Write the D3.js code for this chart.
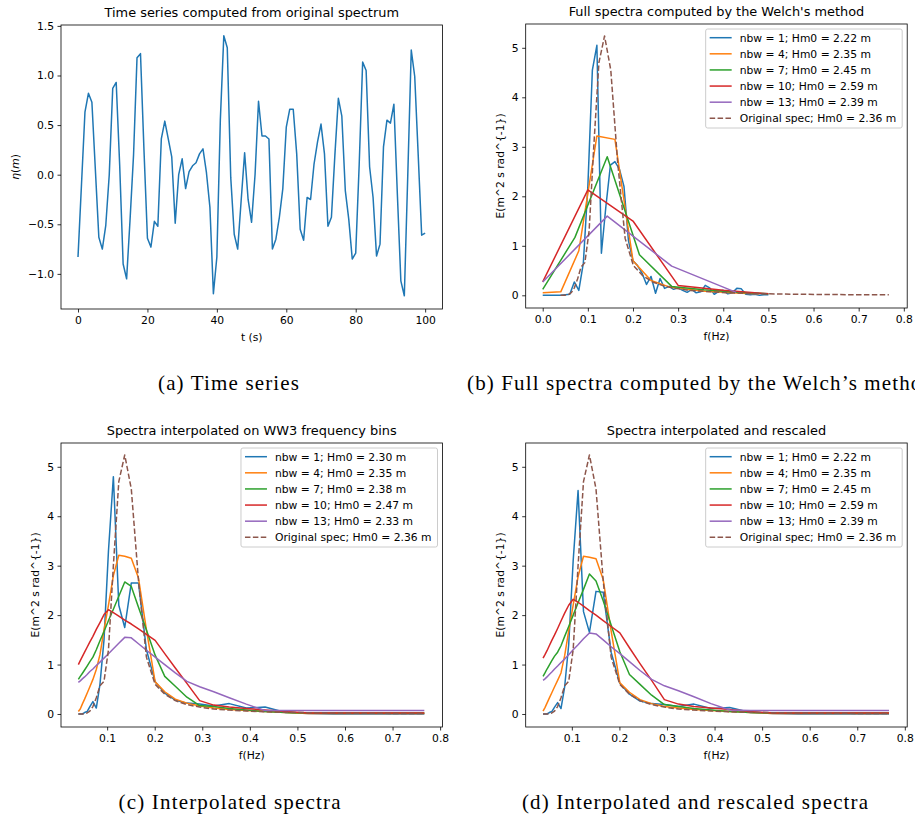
<!DOCTYPE html>
<html>
<head>
<meta charset="utf-8">
<script src="https://cdn.jsdelivr.net/npm/d3@7"></script>
<style>
body { margin: 0; background: #fff; }
svg { display: block; }
.caption { font-family: "Liberation Serif", "DejaVu Serif", serif; font-size: 21px; }
</style>
</head>
<body>
<script>
// ---- data ----

// (a) time series, one sample per second
const tSeconds = [
  0, 1, 2, 3, 4, 5, 6, 7, 8, 9, 10, 11, 12, 13, 14, 15, 16, 17, 18, 19,
  20, 21, 22, 23, 24, 25, 26, 27, 28, 29, 30, 31, 32, 33, 34, 35, 36, 37, 38, 39,
  40, 41, 42, 43, 44, 45, 46, 47, 48, 49, 50, 51, 52, 53, 54, 55, 56, 57, 58, 59,
  60, 61, 62, 63, 64, 65, 66, 67, 68, 69, 70, 71, 72, 73, 74, 75, 76, 77, 78, 79,
  80, 81, 82, 83, 84, 85, 86, 87, 88, 89, 90, 91, 92, 93, 94, 95, 96, 97, 98, 99, 100];
const eta = [
  -0.83, -0.1, 0.63, 0.82, 0.73, 0.05, -0.63, -0.75, -0.51, 0.0,
  0.87, 0.93, 0.1, -0.9, -1.05, -0.45, 0.2, 1.18, 1.22, 0.25,
  -0.64, -0.73, -0.47, -0.52, 0.36, 0.54, 0.36, 0.18, -0.49, 0.0,
  0.16, -0.14, 0.03, 0.09, 0.12, 0.21, 0.26, 0.02, -0.33, -1.2,
  -0.83, 0.55, 1.4, 1.28, -0.03, -0.6, -0.75, -0.26, 0.22, -0.25,
  -0.48, 0.0, 0.74, 0.39, 0.39, 0.36, -0.75, -0.65, -0.43, -0.14,
  0.48, 0.66, 0.66, 0.21, -0.55, -0.66, -0.23, -0.25, 0.11, 0.33,
  0.51, 0.21, -0.52, -0.43, 0.2, 0.77, 0.59, -0.16, -0.45, -0.85,
  -0.79, 0.1, 1.135, 1.05, 0.08, -0.23, -0.82, -0.7, 0.28, 0.55,
  0.52, 0.71, -0.2, -1.07, -1.22, 0.0, 1.256, 0.99, 0.2, -0.61,
  -0.59];

// (b) Welch spectra, each on its own frequency grid
const fNbw1 = [
  0, 0.01, 0.02, 0.03, 0.04, 0.05, 0.06, 0.07, 0.08, 0.09,
  0.10, 0.11, 0.12, 0.13, 0.14, 0.15, 0.16, 0.17, 0.18, 0.19,
  0.20, 0.21, 0.22, 0.23, 0.24, 0.25, 0.26, 0.27, 0.28, 0.29,
  0.30, 0.31, 0.32, 0.33, 0.34, 0.35, 0.36, 0.37, 0.38, 0.39,
  0.40, 0.41, 0.42, 0.43, 0.44, 0.45, 0.46, 0.47, 0.48, 0.49, 0.50];
const eNbw1 = [
  0, 0, 0, 0, 0, 0.01, 0.02, 0.27, 0.1, 0.65,
  2.2, 4.55, 5.05, 0.85, 1.8, 2.63, 2.7, 2.55, 2.2, 1.1,
  0.7, 0.6, 0.45, 0.22, 0.38, 0.04, 0.34, 0.14, 0.18, 0.12,
  0.15, 0.1, 0.06, 0.12, 0.05, 0.07, 0.2, 0.15, 0.02, 0.08,
  0.1, 0.03, 0.05, 0.14, 0.13, 0.02, 0.01, 0.02, 0.0, 0.01, 0.01];
const fNbw4 = [0, 0.04, 0.08, 0.12, 0.16, 0.20, 0.24, 0.28, 0.32, 0.36, 0.40, 0.44, 0.48];
const eNbw4 = [0.05, 0.07, 0.9, 3.22, 3.15, 0.7, 0.3, 0.17, 0.12, 0.08, 0.06, 0.04, 0.03];
const fNbw7 = [0, 0.0714, 0.1429, 0.2143, 0.2857, 0.3571, 0.4286, 0.5];
const eNbw7 = [0.12, 1.17, 2.8, 0.82, 0.18, 0.11, 0.06, 0.03];
const fNbw10 = [0, 0.1, 0.2, 0.3, 0.4, 0.5];
const eNbw10 = [0.27, 2.13, 1.5, 0.2, 0.1, 0.03];
const fNbw13 = [0, 0.1429, 0.2857, 0.4286];
const eNbw13 = [0.27, 1.6, 0.59, 0.06];

// WW3 frequency bins and the original spectrum on them
const ww3Freq = [
  0.0395, 0.0435, 0.0478, 0.0526, 0.0579, 0.0637, 0.0701, 0.0772, 0.0849, 0.0934,
  0.1028, 0.1131, 0.1245, 0.1370, 0.1508, 0.1659, 0.1826, 0.2009, 0.2211, 0.2433,
  0.2677, 0.2945, 0.3241, 0.3567, 0.3925, 0.4319, 0.4752, 0.5229, 0.5754, 0.6332,
  0.6968, 0.7668];
const origSpec = [
  0, 0, 0, 0.01, 0.02, 0.06, 0.15, 0.33, 0.57, 0.66,
  1.3, 3.0, 4.7, 5.24, 4.55, 2.7, 1.15, 0.6, 0.4, 0.27,
  0.19, 0.14, 0.1, 0.08, 0.06, 0.045, 0.035, 0.027, 0.02, 0.015,
  0.012, 0.01];

// (c) interpolated on WW3 bins
const interpNbw1 = [0, 0, 0, 0.03, 0.05, 0.15, 0.25, 0.12, 0.6, 1.5, 3.3, 4.8, 2.2, 1.75, 2.65, 2.65,
  1.3, 0.65, 0.42, 0.28, 0.22, 0.2, 0.16, 0.21, 0.12, 0.14, 0.03, 0.01, 0, 0, 0, 0];
const interpNbw4 = [0.05, 0.1, 0.2, 0.3, 0.42, 0.55, 0.7, 0.9, 1.2, 1.7, 2.2, 2.8, 3.21, 3.19, 3.15, 2.75,
  1.7, 0.65, 0.45, 0.3, 0.22, 0.16, 0.12, 0.09, 0.07, 0.05, 0.03, 0.01, 0.01, 0.01, 0.01, 0.01];
const interpNbw7 = [0.7, 0.76, 0.82, 0.89, 0.97, 1.06, 1.15, 1.3, 1.48, 1.67, 1.89, 2.12, 2.38, 2.67, 2.58, 2.16,
  1.7, 1.19, 0.76, 0.56, 0.34, 0.17, 0.15, 0.11, 0.08, 0.05, 0.03, 0.02, 0.02, 0.02, 0.02, 0.02];
const interpNbw10 = [1.0, 1.08, 1.16, 1.25, 1.35, 1.46, 1.57, 1.71, 1.85, 2.01, 2.11, 2.05, 1.98, 1.9, 1.82, 1.72,
  1.61, 1.49, 1.22, 0.93, 0.62, 0.27, 0.18, 0.14, 0.11, 0.08, 0.05, 0.02, 0.02, 0.02, 0.02, 0.02];
const interpNbw13 = [0.64, 0.67, 0.71, 0.75, 0.8, 0.86, 0.91, 0.98, 1.05, 1.13, 1.22, 1.32, 1.43, 1.55, 1.54, 1.42,
  1.29, 1.15, 1.0, 0.83, 0.66, 0.55, 0.45, 0.33, 0.2, 0.07, 0.07, 0.07, 0.07, 0.07, 0.07, 0.07];

// (d) interpolated and rescaled
const rescNbw1 = [0, 0, 0, 0.03, 0.05, 0.14, 0.23, 0.11, 0.55, 1.4, 3.1, 4.52, 2.07, 1.65, 2.48, 2.46,
  1.25, 0.62, 0.4, 0.26, 0.21, 0.19, 0.15, 0.2, 0.11, 0.13, 0.03, 0.01, 0, 0, 0, 0];
const rescNbw4 = [0.06, 0.13, 0.22, 0.32, 0.43, 0.55, 0.68, 0.83, 1.18, 1.68, 2.2, 2.78, 3.19, 3.17, 3.14, 2.72,
  1.68, 0.63, 0.44, 0.29, 0.21, 0.15, 0.12, 0.09, 0.07, 0.05, 0.03, 0.01, 0.01, 0.01, 0.01, 0.01];
const rescNbw7 = [0.76, 0.83, 0.91, 0.99, 1.08, 1.17, 1.25, 1.38, 1.57, 1.77, 2.0, 2.25, 2.52, 2.83, 2.69, 2.29,
  1.8, 1.26, 0.8, 0.6, 0.38, 0.19, 0.15, 0.11, 0.08, 0.05, 0.03, 0.02, 0.02, 0.02, 0.02, 0.02];
const rescNbw10 = [1.13, 1.2, 1.28, 1.38, 1.49, 1.6, 1.73, 1.88, 2.04, 2.2, 2.32, 2.26, 2.18, 2.09, 2.0, 1.89,
  1.77, 1.64, 1.34, 1.02, 0.68, 0.29, 0.2, 0.15, 0.12, 0.09, 0.05, 0.02, 0.02, 0.02, 0.02, 0.02];
const rescNbw13 = [0.68, 0.71, 0.75, 0.8, 0.85, 0.91, 0.97, 1.04, 1.11, 1.2, 1.3, 1.4, 1.52, 1.64, 1.62, 1.5,
  1.36, 1.22, 1.06, 0.88, 0.7, 0.57, 0.47, 0.35, 0.21, 0.08, 0.07, 0.07, 0.07, 0.07, 0.07, 0.07];

const nbwList = [1, 4, 7, 10, 13];
const hm0Welch = ['2.22', '2.35', '2.45', '2.59', '2.39'];
const hm0Interp = ['2.30', '2.35', '2.38', '2.47', '2.33'];
const hm0Resc = ['2.22', '2.35', '2.45', '2.59', '2.39'];
const hm0Orig = '2.36';

const timeTicks = [0, 20, 40, 60, 80, 100];
const etaTicks = [-1.0, -0.5, 0.0, 0.5, 1.0, 1.5];
const welchFreqTicks = [0, 0.1, 0.2, 0.3, 0.4, 0.5, 0.6, 0.7, 0.8];
const ww3FreqTicks = [0.1, 0.2, 0.3, 0.4, 0.5, 0.6, 0.7, 0.8];
const energyTicks = [0, 1, 2, 3, 4, 5];

// ---- drawing ----
const colors = ['#1f77b4', '#ff7f0e', '#2ca02c', '#d62728', '#9467bd'];
const brown = '#8c564b';
const FONT = '"DejaVu Sans", Verdana, sans-serif';
const SMALL = 10.75, TITLE = 12.9;
const zip = (xs, ys) => xs.map((v, i) => [v, ys[i]]);

const svg = d3.select('body').append('svg')
  .attr('width', 915).attr('height', 819)
  .attr('font-family', FONT);

const W = 381.5, H = 284;
let clipId = 0;

function spectraSeries(freqs, values, hm0) {
  const s = values.map((v, i) => ({
    pts: zip(Array.isArray(freqs[0]) ? freqs[i] : freqs, v),
    color: colors[i],
    label: 'nbw = ' + nbwList[i] + '; Hm0 = ' + hm0[i] + ' m'
  }));
  s.push({ pts: zip(ww3Freq, origSpec), color: brown, dash: '5.5,2.4',
    label: 'Original spec; Hm0 = ' + hm0Orig + ' m' });
  return s;
}

function drawPanel(p) {
  const g = svg.append('g').attr('transform', 'translate(' + p.left + ',' + p.top + ')');
  const x = d3.scaleLinear().domain(p.xDomain).range([0, W]);
  const y = d3.scaleLinear().domain(p.yDomain).range([H, 0]);

  const id = 'clip' + (clipId++);
  g.append('clipPath').attr('id', id)
    .append('rect').attr('width', W).attr('height', H);

  const line = d3.line().x(d => x(d[0])).y(d => y(d[1]));
  const plot = g.append('g').attr('clip-path', 'url(#' + id + ')');
  p.series.forEach(s => {
    plot.append('path').datum(s.pts)
      .attr('d', line)
      .attr('fill', 'none')
      .attr('stroke', s.color)
      .attr('stroke-width', 1.5)
      .attr('stroke-linejoin', 'round')
      .attr('stroke-dasharray', s.dash || null);
  });

  // axes
  const xAxis = d3.axisBottom(x).tickValues(p.xTicks).tickFormat(p.xFmt)
    .tickSize(3.5).tickPadding(3.5).tickSizeOuter(0);
  const yAxis = d3.axisLeft(y).tickValues(p.yTicks).tickFormat(p.yFmt)
    .tickSize(3.5).tickPadding(3.5).tickSizeOuter(0);
  [g.append('g').attr('transform', 'translate(0,' + H + ')').call(xAxis),
   g.append('g').call(yAxis)].forEach(a => {
    a.select('.domain').remove();
    a.attr('font-family', FONT).attr('font-size', SMALL);
    a.selectAll('line').attr('stroke', '#000').attr('stroke-width', 0.8);
    a.selectAll('text').attr('fill', '#000');
  });

  g.append('rect').attr('width', W).attr('height', H)
    .attr('fill', 'none').attr('stroke', '#000').attr('stroke-width', 0.8);

  g.append('text').attr('x', W / 2).attr('y', -8)
    .attr('text-anchor', 'middle').attr('font-size', TITLE).text(p.title);
  g.append('text').attr('x', W / 2).attr('y', H + 32)
    .attr('text-anchor', 'middle').attr('font-size', SMALL).text(p.xlabel);
  const yl = g.append('text')
    .attr('transform', 'translate(' + (-p.ylabelOffset + 3.8) + ',' + (H / 2) + ') rotate(-90)')
    .attr('text-anchor', 'middle').attr('font-size', SMALL);
  if (p.ylabelParts) {
    p.ylabelParts.forEach(t => yl.append('tspan').attr('font-style', t[1] ? 'italic' : null).text(t[0]));
  } else {
    yl.text(p.ylabel);
  }

  if (p.legend) {
    const rowH = 16.12;
    const lg = g.append('g');
    const frame = lg.append('rect');
    const texts = p.series.map((s, i) => {
      const cy = 8.7 + i * rowH;
      lg.append('line').attr('x1', 4).attr('x2', 26).attr('y1', cy).attr('y2', cy)
        .attr('stroke', s.color).attr('stroke-width', 1.5)
        .attr('stroke-dasharray', s.dash || null);
      return lg.append('text').attr('x', 34).attr('y', cy + 3.9)
        .attr('font-size', SMALL).text(s.label);
    });
    const maxW = d3.max(texts, t => t.node().getComputedTextLength());
    const bw = 34 + maxW + 6, bh = 99;
    frame.attr('width', bw).attr('height', bh).attr('rx', 2)
      .attr('fill', '#fff').attr('fill-opacity', 0.8)
      .attr('stroke', '#cccccc').attr('stroke-width', 1);
    lg.attr('transform', 'translate(' + (W - 5 - bw) + ',5)');
  }
}

const fmt1 = d3.format('.1f');
const fmtEta = v => fmt1(v).replace('-', '\u2212');

drawPanel({
  left: 61, top: 25, xDomain: [-4.9, 105], yDomain: [-1.354, 1.509],
  xTicks: timeTicks, xFmt: d3.format('d'), yTicks: etaTicks, yFmt: fmtEta,
  title: 'Time series computed from original spectrum', xlabel: 't (s)',
  ylabelParts: [['\u03b7', true], ['(', false], ['m', true], [')', false]], ylabelOffset: 46,
  series: [{ pts: zip(tSeconds, eta), color: colors[0] }], legend: false
});

drawPanel({
  left: 525.7, top: 24, xDomain: [-0.0377, 0.8075], yDomain: [-0.2566, 5.481],
  xTicks: welchFreqTicks, xFmt: fmt1, yTicks: energyTicks, yFmt: d3.format('d'),
  title: "Full spectra computed by the Welch's method", xlabel: 'f(Hz)',
  ylabel: 'E(m^2 s rad^{-1})', ylabelOffset: 25.7,
  series: spectraSeries([fNbw1, fNbw4, fNbw7, fNbw10, fNbw13],
    [eNbw1, eNbw4, eNbw7, eNbw10, eNbw13], hm0Welch), legend: true
});

drawPanel({
  left: 61, top: 443, xDomain: [0.003, 0.805], yDomain: [-0.263, 5.481],
  xTicks: ww3FreqTicks, xFmt: fmt1, yTicks: energyTicks, yFmt: d3.format('d'),
  title: 'Spectra interpolated on WW3 frequency bins', xlabel: 'f(Hz)',
  ylabel: 'E(m^2 s rad^{-1})', ylabelOffset: 26,
  series: spectraSeries(ww3Freq,
    [interpNbw1, interpNbw4, interpNbw7, interpNbw10, interpNbw13], hm0Interp), legend: true
});

drawPanel({
  left: 525.7, top: 443, xDomain: [0.003, 0.805], yDomain: [-0.263, 5.481],
  xTicks: ww3FreqTicks, xFmt: fmt1, yTicks: energyTicks, yFmt: d3.format('d'),
  title: 'Spectra interpolated and rescaled', xlabel: 'f(Hz)',
  ylabel: 'E(m^2 s rad^{-1})', ylabelOffset: 25.7,
  series: spectraSeries(ww3Freq,
    [rescNbw1, rescNbw4, rescNbw7, rescNbw10, rescNbw13], hm0Resc), legend: true
});

// sub-figure captions: text, x, baseline y, measured width in the figure
const captions = [
  ['(a) Time series', 158, 390, 141],
  ["(b) Full spectra computed by the Welch\u2019s method", 467, 390, 466],
  ['(c) Interpolated spectra', 118.5, 809, 222],
  ['(d) Interpolated and rescaled spectra', 522, 809, 346]
];
svg.selectAll('text.caption').data(captions).join('text')
  .attr('class', 'caption')
  .attr('x', d => d[1]).attr('y', d => d[2])
  .attr('textLength', d => d[3]).attr('lengthAdjust', 'spacing')
  .text(d => d[0]);
</script>
</body>
</html>
